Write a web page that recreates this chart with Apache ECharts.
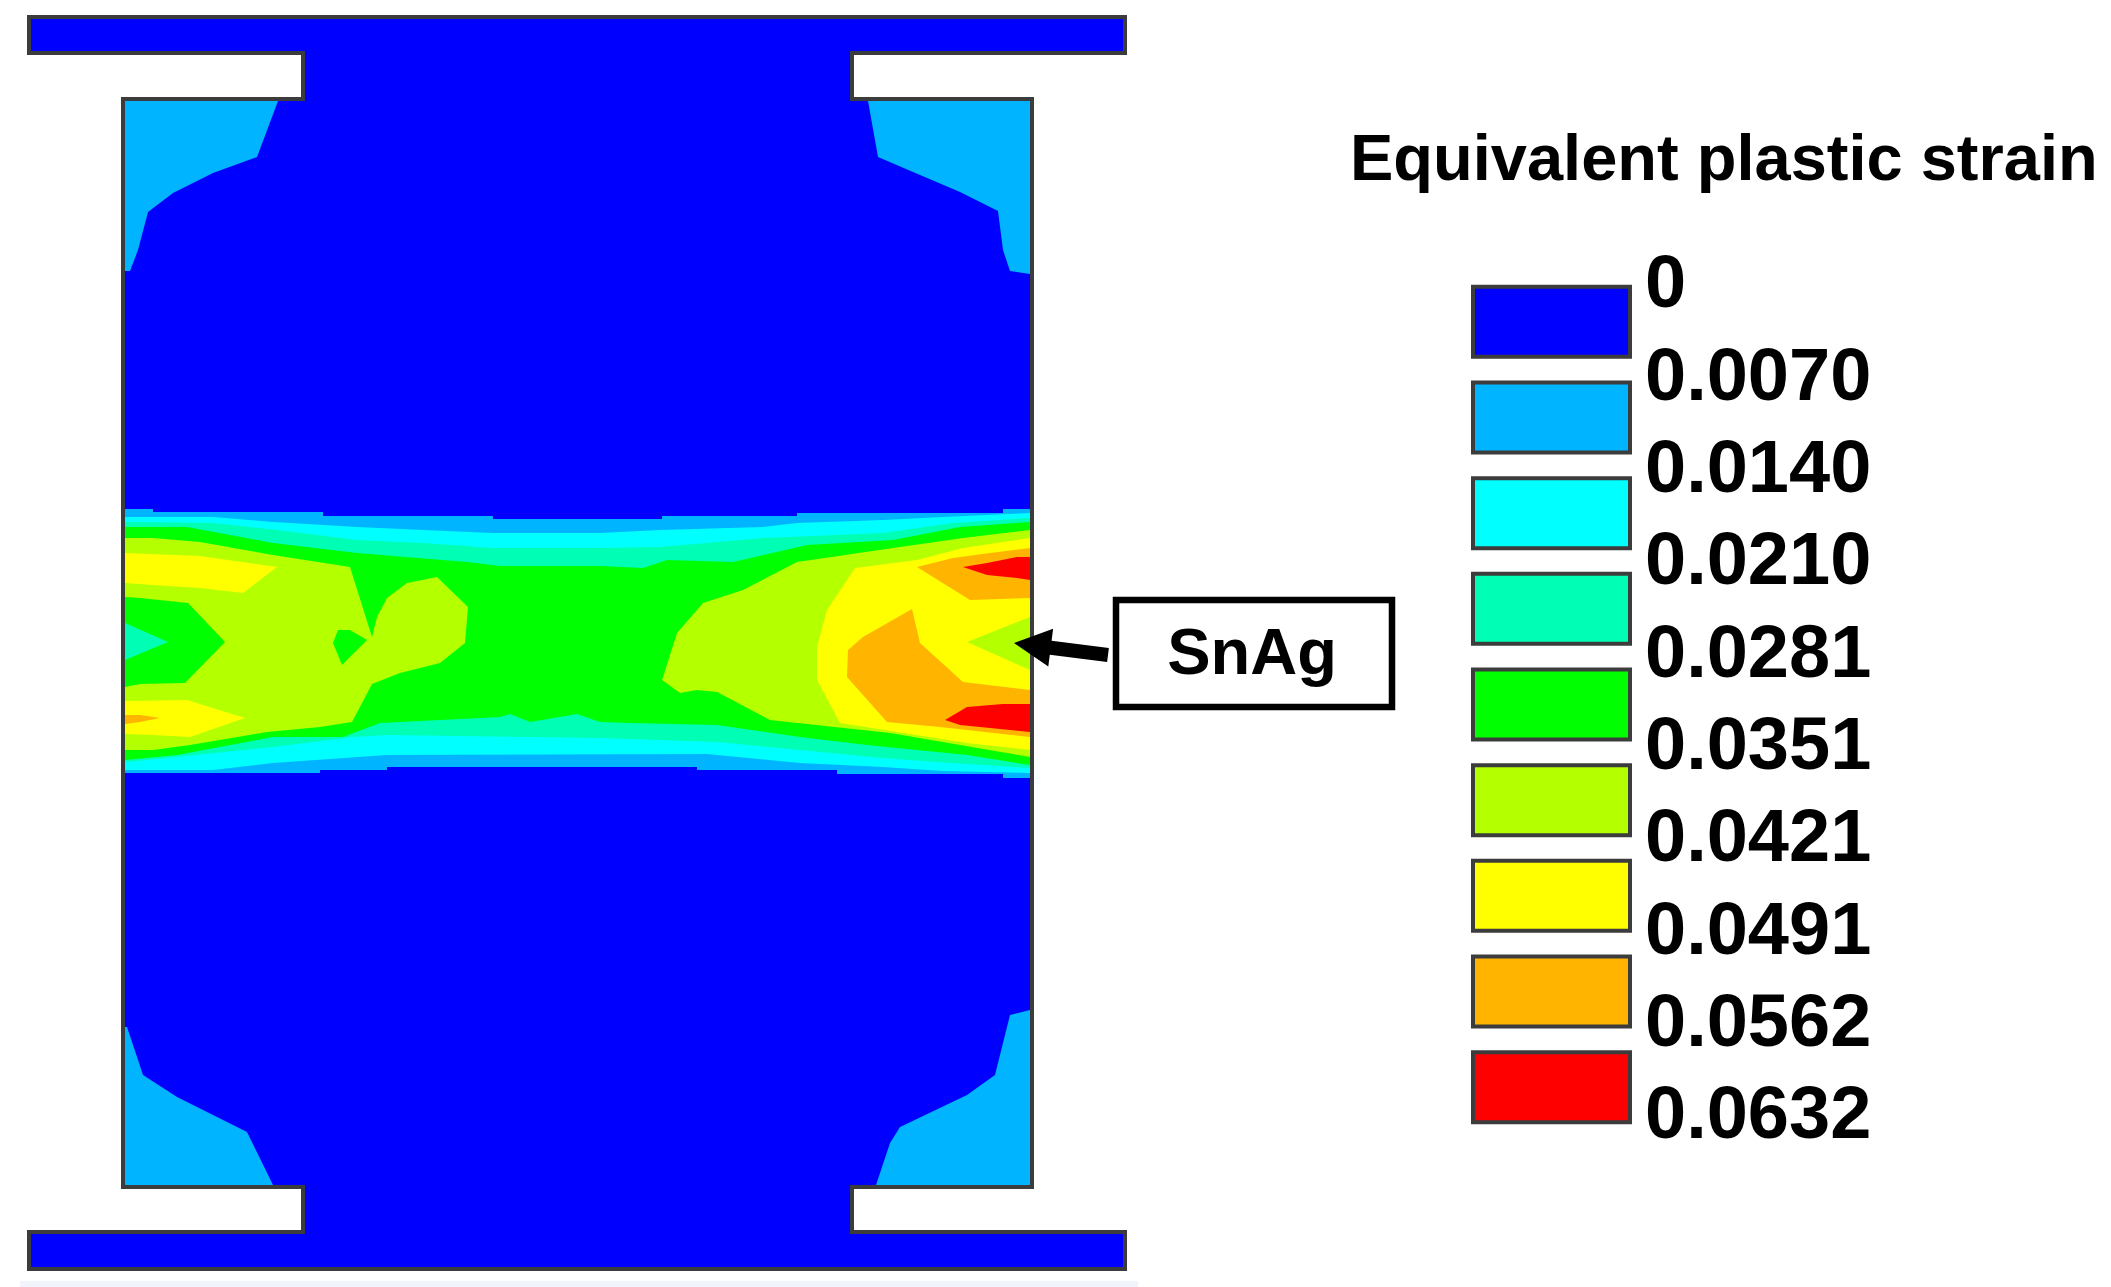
<!DOCTYPE html>
<html><head><meta charset="utf-8">
<style>html,body{margin:0;padding:0;background:#fff}#c{width:2111px;height:1287px}</style>
<script src="https://cdn.jsdelivr.net/npm/echarts@6/dist/echarts.min.js"></script>
</head><body><div id="c"></div>
<script>
// Legend
const legendTitle = 'Equivalent plastic strain';
const levelLabels = ['0','0.0070','0.0140','0.0210','0.0281','0.0351','0.0421','0.0491','0.0562','0.0632'];
const levelBands = ['0-0.0070','0.0070-0.0140','0.0140-0.0210','0.0210-0.0281','0.0281-0.0351','0.0351-0.0421','0.0421-0.0491','0.0491-0.0562','0.0562-0.0632'];
const levelColors = ['#0000ff','#00b4ff','#00ffff','#00ffb4','#00ff00','#b4ff00','#ffff00','#ffb400','#ff0000'];
const bandPresence = [1,1,1,1,1,1,1,1,1];

// Specimen outline, model units
const specimen = [[29,17],[1125,17],[1125,53],[852,53],[852,99],[1032,99],[1032,1187],[852,1187],[852,1232],[1125,1232],[1125,1269],[29,1269],[29,1232],[303,1232],[303,1187],[123,1187],[123,99],[303,99],[303,53],[29,53]];

// Contour regions, model units
const cornerTL = [[125,101],[278,101],[257,157],[213,173],[173,193],[148,212],[138,250],[130,271],[125,271]];
const cornerTR = [[868,101],[878,157],[913,172],[960,192],[998,211],[1003,250],[1010,271],[1030,274],[1030,101]];
const cornerBL = [[125,1027],[127,1027],[143,1075],[177,1097],[247,1132],[273,1185],[125,1185]];
const cornerBR = [[1030,1010],[1010,1015],[1003,1043],[995,1075],[967,1095],[900,1127],[890,1143],[876,1185],[1030,1185]];

const band1 = [[125,509],[153,509],[153,512],[323,512],[323,516],[493,516],[493,519],[662,519],[662,516],[797,516],[797,513],[1003,513],[1003,509],[1030,509],
  [1030,778],[1003,778],[1003,774],[837,774],[837,770],[697,770],[697,767],[387,767],[387,770],[320,770],[320,773],[125,773]];
const band2 = [[125,517],[213,517],[273,522],[357,527],[423,530],[493,533],[600,533],[660,530],[763,527],[797,523],[883,520],[943,517],[1030,513],
  [1030,773],[943,771],[883,767],[800,763],[707,754],[387,755],[273,763],[213,770],[125,770]];
const band3 = [[125,522],[213,523],[277,530],[357,540],[423,543],[493,548],[600,548],[660,547],[763,538],[883,533],[953,523],[1030,518],
  [1030,768],[950,763],[883,758],[800,750],[717,742],[600,738],[387,735],[353,737],[273,747],[127,762],[125,762]];
const band4 = [[125,527],[187,527],[273,543],[357,553],[467,562],[500,566],[600,566],[643,568],[667,560],[733,562],[807,545],[893,540],[960,527],[1030,522],
  [1030,765],[967,755],[867,745],[800,737],[717,725],[630,723],[600,722],[577,714],[530,722],[510,714],[500,717],[400,722],[380,723],[343,737],[273,737],[177,755],[125,760]];

const limeLeft = [[125,538],[153,538],[200,542],[273,555],[350,567],[372,637],[377,617],[387,598],[407,583],[437,577],[468,607],[465,643],[440,663],[400,673],[372,684],[352,722],[320,727],[267,732],[190,745],[153,750],[125,750]];
const limeRight = [[662,680],[677,633],[703,603],[743,590],[797,562],[893,548],[963,538],[1030,530],[1030,757],[890,733],[770,720],[717,692],[697,690],[680,693]];
const greenNotchLeft = [[125,597],[140,598],[188,603],[225,642],[185,683],[140,684],[125,687]];
const tealTipLeft = [[125,623],[168,642],[125,660]];
const greenSpot = [[338,630],[350,630],[367,640],[342,665],[333,643]];

const yellowLeftTop = [[125,553],[200,556],[277,567],[243,593],[200,588],[153,585],[125,583]];
const yellowLeftBottom = [[125,701],[187,700],[245,718],[190,737],[153,735],[125,734]];
const yellowRight = [[817,647],[827,610],[855,568],[917,560],[963,548],[1030,538],[1030,617],[967,642],[1030,670],[1030,750],[967,743],[840,723],[817,680]];

const orangeSliver = [[125,715],[140,715],[160,718],[140,722],[125,724]];
const orangeRightTop = [[917,567],[953,558],[990,553],[1030,548],[1030,598],[970,600]];
const orangeRightLow = [[848,650],[863,637],[912,609],[920,643],[963,682],[1030,690],[1030,737],[940,727],[887,722],[847,677]];

const redTop = [[963,567],[987,563],[1017,557],[1030,557],[1030,580],[1017,578],[987,575]];
const redBottom = [[945,720],[967,707],[1003,704],[1030,704],[1030,732],[990,728],[960,725]];

const regions = [
  [cornerTL,1],[cornerTR,1],[cornerBL,1],[cornerBR,1],[band1,1],[band2,2],[band3,3],[band4,4],
  [limeLeft,5],[limeRight,5],[greenNotchLeft,4],[tealTipLeft,3],[greenSpot,4],
  [yellowLeftTop,6],[yellowLeftBottom,6],[yellowRight,6],
  [orangeSliver,7],[orangeRightTop,7],[orangeRightLow,7],[redTop,8],[redBottom,8]
];

// Annotation
const calloutText = 'SnAg';
const calloutBox = [[1116,600],[1392,707]];
const arrowFrom = [1108,655];
const arrowTo = [1014,643];
const scanStrip = [[20,1281],[1138,1287]];

const chart = echarts.init(document.getElementById('c'), null, {renderer:'canvas', width:2111, height:1287});

function polyItem(points, style, api){
  return {type:'polygon', shape:{points:points.map(p=>api.coord(p))}, style};
}

chart.setOption({
  animation:false,
  backgroundColor:'#fff',
  title:{text:legendTitle,left:1350,top:130,padding:0,textStyle:{fontFamily:'Liberation Sans',fontWeight:'bold',fontSize:65,color:'#000'}},
  grid:[
    {left:0,top:0,width:2111,height:1287},
    {left:1471,top:274,width:161,height:861},
    {left:1471,top:287,width:161,height:831}
  ],
  xAxis:[
    {gridIndex:0,type:'value',min:0,max:2111,show:false},
    {gridIndex:1,type:'value',min:0,max:1,show:false},
    {gridIndex:2,type:'value',min:0,max:1,show:false}
  ],
  yAxis:[
    {gridIndex:0,type:'value',min:0,max:1287,inverse:true,show:false},
    {gridIndex:1,type:'category',data:levelBands,inverse:true,show:false},
    {gridIndex:2,type:'category',data:levelLabels,inverse:true,boundaryGap:false,position:'right',
      axisLine:{show:false},axisTick:{show:false},splitLine:{show:false},
      axisLabel:{show:true,interval:0,margin:13,color:'#000',fontFamily:'Liberation Sans',fontWeight:'bold',fontSize:74,align:'left'}}
  ],
  series:[
    {type:'custom',xAxisIndex:0,yAxisIndex:0,silent:true,coordinateSystem:'cartesian2d',
      data:[[0,0]],encode:{x:0,y:1},z:0,
      renderItem:(p,api)=>{const a=api.coord(scanStrip[0]),b=api.coord(scanStrip[1]);
        return {type:'rect',shape:{x:a[0],y:a[1],width:b[0]-a[0],height:b[1]-a[1]},style:{fill:'#f1f4fb'}};}},
    {type:'custom',xAxisIndex:0,yAxisIndex:0,silent:true,coordinateSystem:'cartesian2d',
      data:[[0,0]],encode:{x:0,y:1},z:1,
      renderItem:(p,api)=>polyItem(specimen,{fill:levelColors[0],stroke:null},api)},
    {type:'custom',xAxisIndex:0,yAxisIndex:0,silent:true,coordinateSystem:'cartesian2d',
      data:regions.map((r,i)=>[i,0]),encode:{x:0,y:1},z:2,
      renderItem:(p,api)=>{const r=regions[api.value(0)];return polyItem(r[0],{fill:levelColors[r[1]],stroke:null},api);}},
    {type:'custom',xAxisIndex:0,yAxisIndex:0,silent:true,coordinateSystem:'cartesian2d',
      data:[[0,0]],encode:{x:0,y:1},z:3,
      renderItem:(p,api)=>polyItem(specimen,{fill:'none',stroke:'#3c3c3c',lineWidth:4,lineJoin:'miter'},api)},
    {type:'bar',xAxisIndex:1,yAxisIndex:1,barWidth:74,silent:true,
      data:bandPresence.map((v,i)=>({value:v,itemStyle:{color:levelColors[i],borderColor:'#3c3c3c',borderWidth:4}})),z:4},
    {type:'custom',xAxisIndex:0,yAxisIndex:0,silent:true,coordinateSystem:'cartesian2d',
      data:[[0,0]],encode:{x:0,y:1},z:5,
      renderItem:(p,api)=>{
        const a=api.coord(calloutBox[0]),b=api.coord(calloutBox[1]);
        const f=api.coord(arrowFrom),t=api.coord(arrowTo);
        const dx=f[0]-t[0],dy=f[1]-t[1],L=Math.hypot(dx,dy),ux=dx/L,uy=dy/L,nx=-uy,ny=ux;
        const hl=37,hw=19,sw=7;
        const bx=t[0]+ux*hl,by=t[1]+uy*hl;
        return {type:'group',children:[
          {type:'rect',shape:{x:a[0],y:a[1],width:b[0]-a[0],height:b[1]-a[1]},style:{fill:'#fff',stroke:'#000',lineWidth:6.5}},
          {type:'text',style:{text:calloutText,x:(a[0]+b[0])/2-2,y:(a[1]+b[1])/2+3,align:'center',verticalAlign:'middle',fill:'#000',font:'bold 65px "Liberation Sans"'}},
          {type:'polygon',shape:{points:[t,[bx+nx*hw,by+ny*hw],[bx+nx*sw,by+ny*sw],[f[0]+nx*sw,f[1]+ny*sw],[f[0]-nx*sw,f[1]-ny*sw],[bx-nx*sw,by-ny*sw],[bx-nx*hw,by-ny*hw]]},style:{fill:'#000'}}
        ]};
      }}
  ]
});
</script></body></html>
